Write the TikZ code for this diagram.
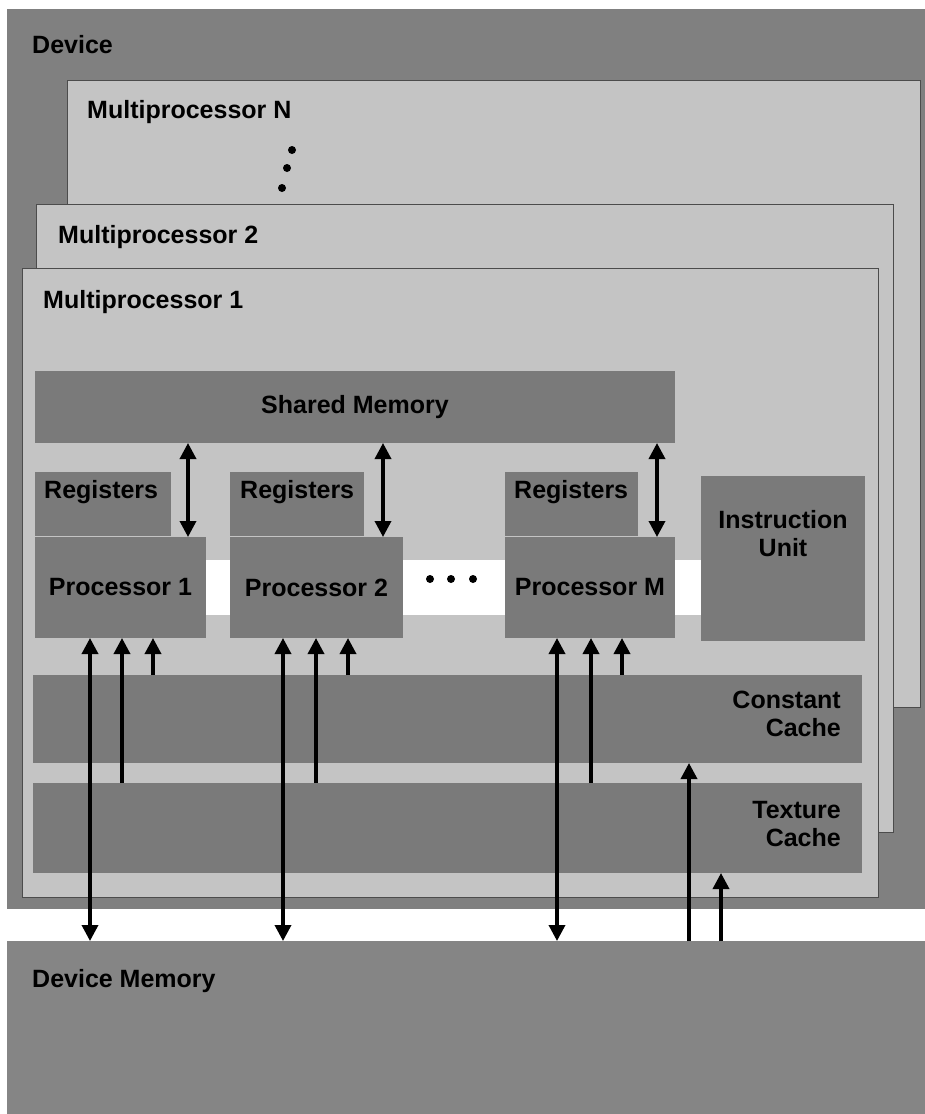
\documentclass[tikz,border=0pt]{standalone}
\usepackage{fontspec}
\setmainfont{Liberation Sans}
\usepackage{tikz}
\usetikzlibrary{arrows.meta}
\definecolor{devgray}{gray}{0.5}
\definecolor{mpgray}{gray}{0.77}
\definecolor{boxgray}{gray}{0.48}
\definecolor{memgray}{gray}{0.52}

\begin{document}
\begin{tikzpicture}[x=1pt,y=-1pt,
  box/.style={fill=boxgray,inner sep=0pt,outer sep=0pt,anchor=north west},
  mpbox/.style={fill=mpgray,draw=black!70,line width=1pt,inner sep=0pt,outer sep=0pt,anchor=north west},
  lbl/.style={font=\fontsize{25}{28}\selectfont\bfseries,inner sep=0pt},
  arr/.style={line width=3.5pt,-{Triangle[length=16pt,width=16pt]}},
  dbl/.style={line width=3.5pt,{Triangle[length=16pt,width=16pt]}-{Triangle[length=16pt,width=16pt]}}]
\useasboundingbox (0,0) rectangle (925,1114);
\fill[white] (0,0) rectangle (925,1114);
\node[box,fill=devgray,minimum width=918pt,minimum height=900pt] (dev) at (7,9) {};
\node[lbl,anchor=base west] (devt) at (32,53) {Device};
\node[mpbox,minimum width=853pt,minimum height=627pt] (mpn) at (67,80) {};
\node[lbl,anchor=base west] (mpnt) at (87,118) {Multiprocessor N};
\fill (292,150) circle (4);
\fill (287,168) circle (4);
\fill (282,188) circle (4);
\node[mpbox,minimum width=857pt,minimum height=628pt] (mp2) at (36,204) {};
\node[lbl,anchor=base west] (mp2t) at (58,243) {Multiprocessor 2};
\node[mpbox,minimum width=856pt,minimum height=629pt] (mp1) at (22,268) {};
\node[lbl,anchor=base west] (mp1t) at (43,308) {Multiprocessor 1};
\node[box,lbl,minimum width=640pt,minimum height=72pt] (shm) at (35,371) {Shared Memory};
\node[box,fill=white,minimum width=495pt,minimum height=55pt] (band) at (206,560) {};
\fill (430,579) circle (4);
\fill (451,579) circle (4);
\fill (473,579) circle (4);
\node[box,minimum width=136pt,minimum height=64pt] (r1) at (35,472) {};
\node[lbl,anchor=base west] (r1t) at (44,498) {Registers};
\node[box,lbl,minimum width=171pt,minimum height=101pt] (p1) at (35,537) {Processor 1};
\node[box,minimum width=134pt,minimum height=64pt] (r2) at (230,472) {};
\node[lbl,anchor=base west] (r2t) at (240,498) {Registers};
\node[box,lbl,minimum width=173pt,minimum height=101pt] (p2) at (230,537) {Processor 2};
\node[box,minimum width=133pt,minimum height=64pt] (rm) at (505,472) {};
\node[lbl,anchor=base west] (rmt) at (514,498) {Registers};
\node[box,lbl,minimum width=170pt,minimum height=101pt] (pm) at (505,537) {Processor M};
\node[box,minimum width=164pt,minimum height=165pt] (iu) at (701,476) {};
\node[lbl,align=center] (iut) at (783,534) {Instruction\\Unit};
\node[box,minimum width=829pt,minimum height=88pt] (cc) at (33,675) {};
\node[lbl,align=right,anchor=east] (cct) at (841,714) {Constant\\Cache};
\node[box,minimum width=829pt,minimum height=90pt] (tc) at (33,783) {};
\node[lbl,align=right,anchor=east] (tct) at (841,824) {Texture\\Cache};
\node[box,fill=memgray,minimum width=918pt,minimum height=173pt] (dmem) at (7,941) {};
\node[lbl,anchor=base west] (dmemt) at (32,987) {Device Memory};
\draw[dbl] ([xshift=153pt]p1.north west) -- ([xshift=153pt]p1.north west |- shm.south);
\draw[dbl] ([xshift=153pt]p2.north west) -- ([xshift=153pt]p2.north west |- shm.south);
\draw[dbl] ([xshift=152pt]pm.north west) -- ([xshift=152pt]pm.north west |- shm.south);
\draw[dbl] ([xshift=55pt]p1.south west) -- ([xshift=55pt]p1.south west |- dmem.north);
\draw[arr] ([xshift=87pt]p1.south west |- tc.north) -- ([xshift=87pt]p1.south west);
\draw[arr] ([xshift=118pt]p1.south west |- cc.north) -- ([xshift=118pt]p1.south west);
\draw[dbl] ([xshift=53pt]p2.south west) -- ([xshift=53pt]p2.south west |- dmem.north);
\draw[arr] ([xshift=86pt]p2.south west |- tc.north) -- ([xshift=86pt]p2.south west);
\draw[arr] ([xshift=118pt]p2.south west |- cc.north) -- ([xshift=118pt]p2.south west);
\draw[dbl] ([xshift=52pt]pm.south west) -- ([xshift=52pt]pm.south west |- dmem.north);
\draw[arr] ([xshift=86pt]pm.south west |- tc.north) -- ([xshift=86pt]pm.south west);
\draw[arr] ([xshift=117pt]pm.south west |- cc.north) -- ([xshift=117pt]pm.south west);
\draw[arr] ([xshift=682pt]dmem.north west) -- ([xshift=682pt]dmem.north west |- cc.south);
\draw[arr] ([xshift=714pt]dmem.north west) -- ([xshift=714pt]dmem.north west |- tc.south);
\end{tikzpicture}
\end{document}
